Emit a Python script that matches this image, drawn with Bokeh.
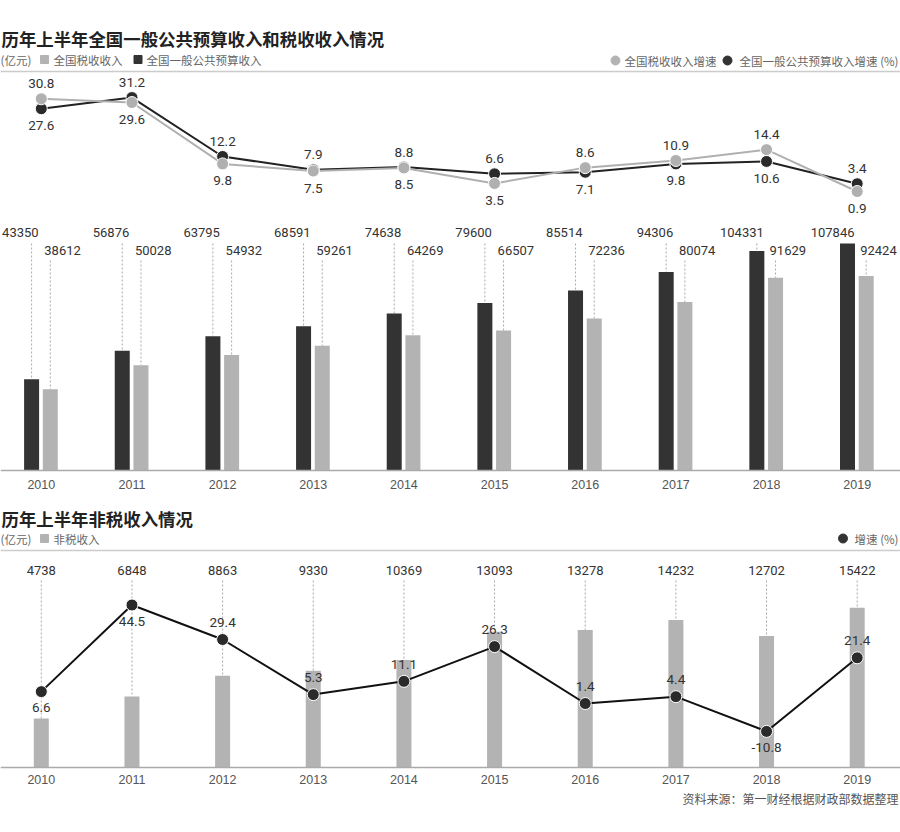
from bokeh.plotting import figure
from bokeh.models import Range1d, Span, ColumnDataSource
from bokeh.core.properties import value
from bokeh.transform import dodge
from bokeh.embed import file_html
from bokeh.resources import INLINE

# ---------------- data ----------------
years = [2010, 2011, 2012, 2013, 2014, 2015, 2016, 2017, 2018, 2019]
general_budget = [43350, 56876, 63795, 68591, 74638, 79600, 85514, 94306, 104331, 107846]
tax_revenue = [38612, 50028, 54932, 59261, 64269, 66507, 72236, 80074, 91629, 92424]
general_growth = [27.6, 31.2, 12.2, 7.9, 8.8, 6.6, 7.1, 9.8, 10.6, 3.4]
tax_growth = [30.8, 29.6, 9.8, 7.5, 8.5, 3.5, 8.6, 10.9, 14.4, 0.9]
nontax_revenue = [4738, 6848, 8863, 9330, 10369, 13093, 13278, 14232, 12702, 15422]
nontax_growth = [6.6, 44.5, 29.4, 5.3, 11.1, 26.3, 1.4, 4.4, -10.8, 21.4]

title1 = "历年上半年全国一般公共预算收入和税收收入情况"
title2 = "历年上半年非税收入情况"
unit_label = "(亿元)"
leg_tax = "全国税收收入"
leg_general = "全国一般公共预算收入"
leg_tax_rate = "全国税收收入增速"
leg_general_rate = "全国一般公共预算收入增速 (%)"
leg_nontax = "非税收入"
leg_nontax_rate = "增速 (%)"
source_note = "资料来源：第一财经根据财政部数据整理"

# ---------------- layout helpers ----------------
W, H = 900, 816

def fy(ry):
    return ry

x_first, x_last = 40.8, 856.7
step = (x_last - x_first) / 9.0
xs = years[0] - x_first / step
xe = xs + W / step

class Band:
    def __init__(self, v_ref, ref_py, ppu):
        self.ppu = ppu
        end = v_ref + fy(ref_py) / ppu
        self.range = Range1d(end - H / ppu, end)

    def at(self, ref_py):
        return self.range.end - fy(ref_py) / self.ppu

rate1 = Band(0.9, 191.0, 3.1)
bars1 = Band(0, 470.0, 0.002104)
bars2 = Band(0, 767.0, 0.01036)
rate2 = Band(44.5, 604.5, 2.286)

p = figure(width=W, height=H, x_range=Range1d(xs, xe), y_range=Range1d(H, 0),
           output_backend="svg", toolbar_location=None, min_border=0,
           x_axis_type=None, y_axis_type=None)
p.outline_line_color = None
p.grid.visible = False
p.background_fill_color = "white"
p.extra_y_ranges = {"rate1": rate1.range, "bars1": bars1.range,
                    "bars2": bars2.range, "rate2": rate2.range}
p.extra_x_ranges = {"px": Range1d(0, W)}

CJK = value("Noto Sans CJK SC")
NUM = value("Roboto")
YEARF = value("Liberation Sans")
DARK = "#333333"
LIGHT = "#b3b3b3"

g_off = [-15 if g >= t else 17 for g, t in zip(general_growth, tax_growth)]
t_off = [-15 if t > g else 17 for g, t in zip(general_growth, tax_growth)]
below = {0, 1, 8}
n_off = [16 if i in below else -17 for i in range(len(years))]

src = ColumnDataSource(dict(
    year=years,
    general=general_budget, tax=tax_revenue,
    g_rate=general_growth, t_rate=tax_growth,
    nontax=nontax_revenue, n_rate=nontax_growth,
    general_txt=[str(v) for v in general_budget],
    tax_txt=[str(v) for v in tax_revenue],
    nontax_txt=[str(v) for v in nontax_revenue],
    g_rate_txt=[f"{v:.1f}" for v in general_growth],
    t_rate_txt=[f"{v:.1f}" for v in tax_growth],
    n_rate_txt=[f"{v:.1f}" for v in nontax_growth],
    g_off=g_off, t_off=t_off, n_off=n_off,
    year_txt=[str(y) for y in years],
))

# ---------------- separators & baselines ----------------
p.add_layout(Span(location=fy(71), dimension="width", line_color="#cccccc", line_width=1.5))
p.add_layout(Span(location=fy(550), dimension="width", line_color="#cccccc", line_width=1.5))
p.add_layout(Span(location=0, dimension="width", y_range_name="bars1", line_color="#aaaaaa", line_width=1.5))
p.add_layout(Span(location=0, dimension="width", y_range_name="bars2", line_color="#aaaaaa", line_width=1.5))

# ---------------- titles & legends ----------------
def txt(x, y, s, size="11.5px", color="#666666", font=CJK, align="left", style="normal"):
    p.text(x=x, y=y, text=value(s), x_range_name="px", text_font=font,
           text_font_size=size, text_color=color, text_align=align,
           text_baseline="middle", text_font_style=style)

txt(1, fy(37.5), title1, size="17.4px", color="#222222", style="bold")
txt(1, fy(517.5), title2, size="17.4px", color="#222222", style="bold")

txt(0, fy(59), unit_label)
p.scatter(x=44, y=fy(59), marker="square", size=8, color=LIGHT, x_range_name="px")
txt(53, fy(59), leg_tax)
p.scatter(x=137.5, y=fy(59), marker="square", size=8, color=DARK, x_range_name="px")
txt(146, fy(59), leg_general)

p.scatter(x=615, y=fy(60), marker="circle", size=9, color=LIGHT, x_range_name="px")
txt(624, fy(60), leg_tax_rate)
p.scatter(x=727, y=fy(60), marker="circle", size=9, color=DARK, x_range_name="px")
txt(898, fy(60), leg_general_rate, align="right")

txt(0, fy(538), unit_label)
p.scatter(x=44, y=fy(538), marker="square", size=8, color=LIGHT, x_range_name="px")
txt(53, fy(538), leg_nontax)
p.scatter(x=842.5, y=fy(538), marker="circle", size=9, color=DARK, x_range_name="px")
txt(898, fy(538), leg_nontax_rate, align="right")

txt(898, fy(797.5), source_note, size="12px", color="#555555", align="right")

# ---------------- top: growth lines ----------------
p.line(x="year", y="g_rate", source=src, y_range_name="rate1", line_color="#222222", line_width=2)
p.line(x="year", y="t_rate", source=src, y_range_name="rate1", line_color="#b0b0b0", line_width=2)
p.scatter(x="year", y="g_rate", source=src, y_range_name="rate1", size=12,
          fill_color="#2a2a2a", line_color="white", line_width=1)
p.scatter(x="year", y="t_rate", source=src, y_range_name="rate1", size=12,
          fill_color="#b0b0b0", line_color="white", line_width=1)
p.text(x="year", y="g_rate", text="g_rate_txt", y_offset="g_off", source=src, y_range_name="rate1",
       text_font=NUM, text_font_size="13.5px", text_color=DARK, text_align="center", text_baseline="middle")
p.text(x="year", y="t_rate", text="t_rate_txt", y_offset="t_off", source=src, y_range_name="rate1",
       text_font=NUM, text_font_size="13.5px", text_color=DARK, text_align="center", text_baseline="middle")

# ---------------- top: revenue bars ----------------
dk = dodge("year", -9.7 / step, range=p.x_range)
lt = dodge("year", 9.0 / step, range=p.x_range)
bw = 15.0 / step
p.segment(x0=dk, y0=bars1.at(243), x1=dk, y1="general", source=src, y_range_name="bars1",
          line_color="#aaaaaa", line_width=1, line_dash="2 2")
p.segment(x0=lt, y0=bars1.at(260), x1=lt, y1="tax", source=src, y_range_name="bars1",
          line_color="#aaaaaa", line_width=1, line_dash="2 2")
p.vbar(x=dk, top="general", bottom=0, width=bw, source=src, y_range_name="bars1",
       fill_color=DARK, line_color=None)
p.vbar(x=lt, top="tax", bottom=0, width=bw, source=src, y_range_name="bars1",
       fill_color=LIGHT, line_color=None)
p.text(x=dk, y=fy(232), text="general_txt", x_offset=7, source=src,
       text_font=NUM, text_font_size="13px", text_color=DARK, text_align="right", text_baseline="middle")
p.text(x=lt, y=fy(250), text="tax_txt", x_offset=-6, source=src,
       text_font=NUM, text_font_size="13px", text_color=DARK, text_align="left", text_baseline="middle")
p.text(x="year", y=0, text="year_txt", y_offset=13.5, source=src, y_range_name="bars1",
       text_font=YEARF, text_font_size="12.5px", text_color="#555555", text_align="center", text_baseline="middle")

# ---------------- bottom: non-tax ----------------
p.segment(x0="year", y0=bars2.at(580), x1="year", y1="nontax", source=src, y_range_name="bars2",
          line_color="#aaaaaa", line_width=1, line_dash="2 2")
p.vbar(x="year", top="nontax", bottom=0, width=bw, source=src, y_range_name="bars2",
       fill_color=LIGHT, line_color=None)
p.text(x="year", y=fy(570), text="nontax_txt", source=src,
       text_font=NUM, text_font_size="13px", text_color=DARK, text_align="center", text_baseline="middle")
p.text(x="year", y=0, text="year_txt", y_offset=12, source=src, y_range_name="bars2",
       text_font=YEARF, text_font_size="12.5px", text_color="#555555", text_align="center", text_baseline="middle")

p.line(x="year", y="n_rate", source=src, y_range_name="rate2", line_color="#111111", line_width=2)
p.scatter(x="year", y="n_rate", source=src, y_range_name="rate2", size=12,
          fill_color="#2a2a2a", line_color="white", line_width=1)
p.text(x="year", y="n_rate", text="n_rate_txt", y_offset="n_off", source=src, y_range_name="rate2",
       text_font=NUM, text_font_size="13.5px", text_color=DARK, text_align="center", text_baseline="middle")

open("out.html", "w").write(file_html(p, INLINE))
